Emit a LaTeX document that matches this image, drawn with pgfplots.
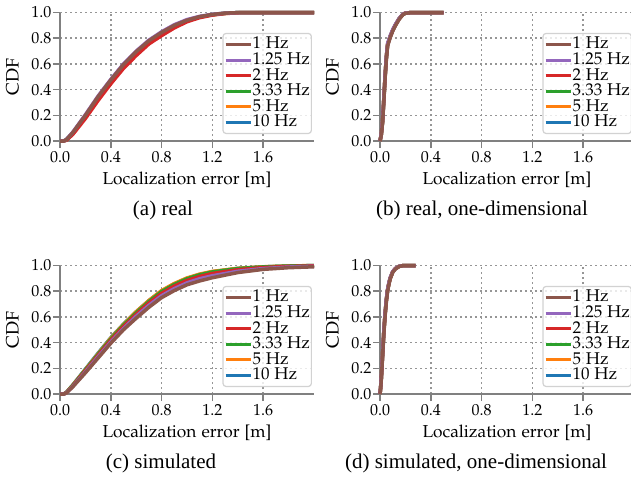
\documentclass[border=0pt]{standalone}
\usepackage[T1]{fontenc}
\usepackage{mathpazo}
\usepackage{fontspec}
\usepackage{pgfplots}
\usepackage{pgfplotstable}
\pgfplotsset{compat=1.18}

\newfontfamily\capfont{Liberation Serif}
\newcommand{\pal}{\fontencoding{T1}\fontfamily{pplx}\selectfont}

\definecolor{tabbrown}{HTML}{8C564B}
\definecolor{tabpurple}{HTML}{9467BD}
\definecolor{tabred}{HTML}{D62728}
\definecolor{tabgreen}{HTML}{2CA02C}
\definecolor{taborange}{HTML}{FF7F0E}
\definecolor{tabblue}{HTML}{1F77B4}
\definecolor{spine}{HTML}{808080}
\definecolor{gridc}{HTML}{969696}

% real
\pgfplotstableread{
x     h1    h125  h2    h333  h5    h10
0     0     0     0     0     0     0
0.03  0     0     0     0     0     0
0.05  0.010 0.012 0.006 0.010 0.009 0.011
0.1   0.065 0.068 0.050 0.060 0.058 0.062
0.2   0.200 0.205 0.175 0.190 0.188 0.195
0.3   0.345 0.350 0.315 0.330 0.328 0.338
0.4   0.475 0.480 0.445 0.460 0.458 0.468
0.5   0.595 0.600 0.565 0.580 0.578 0.588
0.6   0.695 0.700 0.665 0.680 0.678 0.688
0.7   0.780 0.785 0.755 0.770 0.768 0.776
0.8   0.845 0.850 0.820 0.835 0.833 0.840
0.9   0.900 0.905 0.880 0.892 0.890 0.896
1.0   0.940 0.945 0.928 0.936 0.935 0.938
1.1   0.968 0.970 0.960 0.965 0.964 0.966
1.2   0.985 0.986 0.980 0.983 0.982 0.984
1.3   0.995 0.995 0.992 0.994 0.993 0.994
1.4   0.999 0.999 0.998 0.999 0.999 0.999
1.6   1     1     1     1     1     1
2.0   1     1     1     1     1     1
}\realtab

% real, one-dimensional
\pgfplotstableread{
x     h1    h125  h2    h333  h5    h10
0     0     0     0     0     0     0
0.01  0.045 0.055 0.050 0.050 0.052 0.050
0.02  0.140 0.160 0.150 0.152 0.155 0.150
0.03  0.305 0.330 0.320 0.322 0.325 0.318
0.04  0.485 0.510 0.500 0.502 0.505 0.498
0.05  0.635 0.660 0.650 0.652 0.655 0.648
0.06  0.740 0.760 0.750 0.752 0.755 0.748
0.08  0.805 0.818 0.810 0.812 0.814 0.810
0.1   0.855 0.866 0.860 0.862 0.863 0.860
0.12  0.895 0.905 0.900 0.901 0.902 0.900
0.15  0.946 0.953 0.950 0.951 0.951 0.950
0.18  0.983 0.987 0.985 0.985 0.986 0.985
0.2   0.994 0.996 0.995 0.995 0.995 0.995
0.25  1     1     1     1     1     1
0.5   1     1     1     1     1     1
}\realonetab

% simulated
\pgfplotstableread{
x     h1    h125  h2    h333  h5    h10
0     0     0     0     0     0     0
0.03  0     0     0     0     0     0
0.05  0.008 0.009 0.010 0.011 0.012 0.013
0.1   0.055 0.058 0.062 0.066 0.068 0.070
0.2   0.165 0.172 0.180 0.186 0.190 0.194
0.3   0.280 0.290 0.300 0.308 0.313 0.318
0.4   0.395 0.405 0.418 0.428 0.435 0.438
0.5   0.500 0.510 0.525 0.536 0.542 0.544
0.6   0.590 0.605 0.620 0.632 0.640 0.640
0.7   0.675 0.690 0.708 0.720 0.728 0.727
0.8   0.750 0.765 0.783 0.797 0.805 0.802
0.9   0.805 0.820 0.840 0.853 0.860 0.857
1.0   0.850 0.865 0.884 0.897 0.903 0.900
1.1   0.880 0.897 0.915 0.928 0.933 0.930
1.2   0.905 0.920 0.938 0.950 0.954 0.951
1.4   0.945 0.955 0.967 0.976 0.978 0.977
1.6   0.970 0.976 0.984 0.989 0.990 0.989
1.8   0.983 0.988 0.993 0.996 0.996 0.996
2.0   0.990 0.994 0.997 0.999 1.000 0.999
}\simtab

% simulated, one-dimensional
\pgfplotstableread{
x      h1    h125  h2    h333  h5    h10
0      0     0     0     0     0     0
0.005  0.045 0.055 0.050 0.050 0.052 0.050
0.01   0.110 0.128 0.120 0.121 0.123 0.120
0.02   0.285 0.310 0.300 0.302 0.305 0.300
0.03   0.465 0.490 0.480 0.482 0.485 0.480
0.04   0.605 0.630 0.620 0.622 0.625 0.620
0.05   0.718 0.738 0.730 0.732 0.734 0.730
0.06   0.800 0.816 0.810 0.811 0.812 0.810
0.07   0.852 0.865 0.860 0.861 0.862 0.860
0.08   0.894 0.904 0.900 0.901 0.901 0.900
0.1    0.946 0.952 0.950 0.950 0.951 0.950
0.12   0.972 0.977 0.975 0.975 0.976 0.975
0.15   0.992 0.994 0.993 0.993 0.993 0.993
0.18   0.999 0.999 0.999 0.999 0.999 0.999
0.28   1     1     1     1     1     1
}\simonetab

\pgfplotsset{
  cdf/.style={
    scale only axis,
    width=254pt, height=128.5pt,
    xmin=0, xmax=2, ymin=0, ymax=1,
    clip=false,
    axis x line*=bottom, axis y line*=left,
    axis line style={spine, line width=1.8pt},
    every tick/.style={spine, line width=1.5pt},
    tick align=outside,
    major tick length=7pt,
    xtick={0,0.4,...,1.6},
    ytick={0,0.2,...,1.0},
    /pgf/number format/fixed,
    /pgf/number format/fixed zerofill,
    /pgf/number format/precision=1,
    grid=major,
    major grid style={gridc, line width=1.6pt, dash pattern=on 1.6pt off 3.4pt},
    tick label style={font=\fontsize{16}{18}\selectfont},
    yticklabel style={xshift=2pt},
    xlabel={Localization error [m]},
    ylabel={CDF},
    xlabel style={font=\pal\fontsize{17.3}{20}\selectfont,
      at={(axis description cs:0.5,-0.337)}, anchor=base},
    ylabel style={font=\pal\fontsize{18}{20}\selectfont,
      at={(axis description cs:-0.187,0.5)}, anchor=center},
    legend style={
      at={(rel axis cs:0.992,0.054)}, anchor=south east,
      draw=gray!35, line width=1.2pt, rounded corners=3pt,
      fill=white, fill opacity=0.8, text opacity=1,
      font=\pal\fontsize{17}{17}\selectfont,
      inner xsep=1pt, inner ysep=4pt,
      nodes={inner sep=0.5pt, text height=11pt, text depth=2pt},
      row sep=1.6pt, column sep=0pt,
    },
    legend cell align=left,
    reverse legend,
    legend image code/.code={\draw[#1, line width=3pt] (0pt,0pt) -- (25pt,0pt);},
    every axis plot/.append style={line width=3.5pt, line join=round},
  },
}

\newcommand{\cdfplots}[1]{%
  \addplot[tabblue]   table[x=x, y=h10]  {#1}; \addlegendentry{10 Hz}
  \addplot[taborange] table[x=x, y=h5]   {#1}; \addlegendentry{5 Hz}
  \addplot[tabgreen]  table[x=x, y=h333] {#1}; \addlegendentry{3.33 Hz}
  \addplot[tabred]    table[x=x, y=h2]   {#1}; \addlegendentry{2 Hz}
  \addplot[tabpurple] table[x=x, y=h125] {#1}; \addlegendentry{1.25 Hz}
  \addplot[tabbrown]  table[x=x, y=h1]   {#1}; \addlegendentry{1 Hz}
}

\begin{document}
\begin{tikzpicture}
\useasboundingbox (0pt,0pt) rectangle (631pt,-479pt);

\begin{axis}[cdf, at={(60pt,-141pt)}, anchor=south west]
\cdfplots{\realtab}
\end{axis}

\begin{axis}[cdf, at={(380pt,-141pt)}, anchor=south west]
\cdfplots{\realonetab}
\end{axis}

\begin{axis}[cdf, at={(60pt,-394pt)}, anchor=south west]
\cdfplots{\simtab}
\end{axis}

\begin{axis}[cdf, at={(380pt,-394pt)}, anchor=south west]
\cdfplots{\simonetab}
\end{axis}

\tikzset{subcap/.style={font=\capfont\fontsize{21}{23}\selectfont, anchor=base, inner sep=0pt}}
\node[subcap] at (163pt,-215pt) {(a) real};
\node[subcap] at (482pt,-215pt) {(b) real, one-dimensional};
\node[subcap] at (161pt,-468pt) {(c) simulated};
\node[subcap] at (476pt,-468pt) {(d) simulated, one-dimensional};
\end{tikzpicture}
\end{document}
